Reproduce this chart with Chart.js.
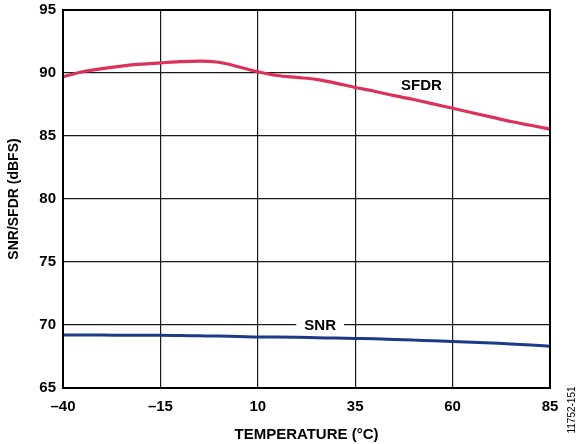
<!DOCTYPE html>
<html><head><meta charset="utf-8">
<script src="https://cdn.jsdelivr.net/npm/chart.js@4"></script>
<style>html,body{margin:0;padding:0;background:#fff}#wrap{width:580px;height:444px;position:relative}</style>
</head><body><div id="wrap"><canvas id="c" width="580" height="444"></canvas></div>
<script>
const temps = [-40,-35,-30,-25,-20,-15,-10,-5,0,5,10,15,20,25,30,35,40,45,50,55,60,65,70,75,80,85];
const sfdr  = [89.7,90.1,90.35,90.55,90.7,90.8,90.9,90.95,90.85,90.5,90.1,89.8,89.65,89.5,89.2,88.85,88.55,88.2,87.9,87.55,87.2,86.85,86.5,86.15,85.85,85.55];
const snr   = [69.2,69.2,69.2,69.19,69.18,69.18,69.16,69.14,69.12,69.09,69.05,69.04,69.02,68.99,68.96,68.93,68.9,68.85,68.8,68.75,68.7,68.64,68.57,68.5,68.42,68.32];
const xTicks = [-40,-15,10,35,60,85];
const yTicks = [65,70,75,80,85,90,95];
const seriesLabels = [{text:'SFDR', x:52, y:89.05, box:false},{text:'SNR', x:26, y:70, box:true}];

const FONT = '"Liberation Sans", Arial, sans-serif';
const fmt = v => v < 0 ? '\u2013' + Math.abs(v) : String(v);

const labelPlugin = {
  id:'seriesLabels',
  afterDatasetsDraw(chart){
    const ctx = chart.ctx, xs = chart.scales.x, ys = chart.scales.y;
    ctx.save();
    ctx.font = 'bold 15px ' + FONT;
    ctx.textAlign = 'center'; ctx.textBaseline = 'middle';
    seriesLabels.forEach(l=>{
      const px = xs.getPixelForValue(l.x), py = ys.getPixelForValue(l.y);
      if (l.box){
        const w = ctx.measureText(l.text).width + 16;
        ctx.fillStyle = '#fff';
        ctx.fillRect(px - w/2, py - 3, w, 6);
      }
      ctx.fillStyle = '#000';
      ctx.fillText(l.text, px, py + 1);
    });
    ctx.restore();
  },
  afterDraw(chart){
    const ctx = chart.ctx;
    ctx.save();
    ctx.font = '10px ' + FONT;
    ctx.fillStyle = '#000';
    ctx.translate(572, 410);
    ctx.rotate(-Math.PI/2);
    ctx.textAlign = 'center'; ctx.textBaseline = 'middle';
    ctx.fillText('11752-151', 0, 0);
    ctx.restore();
  }
};

new Chart(document.getElementById('c'), {
  type:'line',
  data:{
    datasets:[
      {label:'SFDR', data: temps.map((t,i)=>({x:t,y:sfdr[i]})), borderColor:'#dc3159', borderWidth:3.2, pointRadius:0, cubicInterpolationMode:'monotone', fill:false},
      {label:'SNR', data: temps.map((t,i)=>({x:t,y:snr[i]})), borderColor:'#1c3a88', borderWidth:3, pointRadius:0, cubicInterpolationMode:'monotone', fill:false}
    ]
  },
  options:{
    responsive:false, animation:false, devicePixelRatio:1,
    layout:{padding:{top:10,right:30,left:6,bottom:0}},
    plugins:{legend:{display:false}, tooltip:{enabled:false}},
    scales:{
      x:{type:'linear', min:-40, max:85,
        afterBuildTicks: s => { s.ticks = xTicks.map(v=>({value:v})); },
        afterFit: s => { s.height = 56; s.paddingLeft = 0; s.paddingRight = 0; },
        grid:{color:'#1a1a1a', lineWidth:1.2, drawTicks:false},
        border:{color:'#000', width:2},
        ticks:{padding:10, color:'#000', font:{family:FONT, size:15, weight:'bold'}, callback: v => fmt(v), maxRotation:0},
        title:{display:true, text:'TEMPERATURE (°C)', color:'#000', font:{family:FONT, size:15, weight:'bold'}, padding:{top:2,bottom:0}}
      },
      y:{type:'linear', min:65, max:95,
        afterBuildTicks: s => { s.ticks = yTicks.map(v=>({value:v})); },
        afterFit: s => { s.width = 57; s.paddingTop = 0; s.paddingBottom = 0; },
        grid:{color:'#1a1a1a', lineWidth:1.2, drawTicks:false},
        border:{color:'#000', width:2},
        ticks:{padding:7, color:'#000', font:{family:FONT, size:15, weight:'bold'}, callback: v => fmt(v)},
        title:{display:true, text:'SNR/SFDR (dBFS)', color:'#000', font:{family:FONT, size:14, weight:'bold'}, padding:{top:0,bottom:4}}
      }
    }
  },
  plugins:[labelPlugin, {
    id:'frame',
    afterDatasetsDraw(chart){
      const a = chart.chartArea, ctx = chart.ctx;
      ctx.save(); ctx.strokeStyle='#000'; ctx.lineWidth=2;
      ctx.strokeRect(a.left, a.top, a.right-a.left, a.bottom-a.top);
      ctx.restore();
    }
  }]
});
</script></body></html>
